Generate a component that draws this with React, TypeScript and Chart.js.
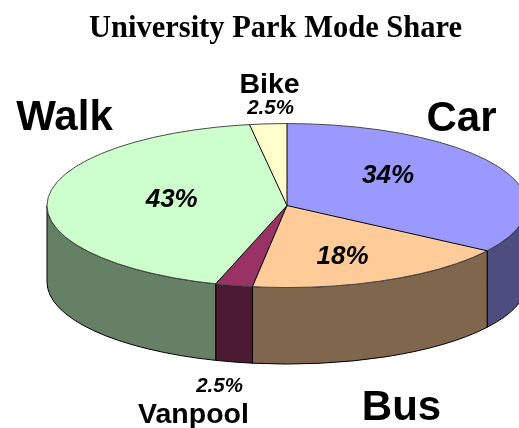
import React, { useEffect, useRef } from "react";
import { Chart, registerables } from "chart.js";

Chart.register(...registerables);

const categories = ["Car", "Bus", "Vanpool", "Walk", "Bike"];
const shareValues = [34.3, 18, 2.5, 42.7, 2.5];
const topColors = ["#9999FF", "#FFCC99", "#993366", "#CCFFCC", "#FFFFCC"];
const sideColors = ["#4D4D80", "#80664D", "#4D1A33", "#668066", "#808066"];

const TILT = 82 / 240;
const DEPTH = 76.5;
const PIE_SHIFT_X = 11.5;
const SERIF_TITLE = "University Park Mode Share";

// text anchors: [centre x, baseline y]
const nameAnchors = [
  [461.5, 131],
  [401.5, 420],
  [193.5, 423],
  [64.5, 130],
  [269.5, 93],
];
const shareAnchors = [
  [388, 183],
  [342.5, 264],
  [219.5, 392],
  [171.7, 207],
  [270.5, 114],
];

const shareText = (v: number) => (v < 10 ? `${v}%` : `${Math.round(v)}%`);

const pie3d = {
  id: "pie3d",
  beforeDatasetsDraw(chart: any) {
    const ctx = chart.ctx;
    const arcs = chart.getDatasetMeta(0).data;
    const first = arcs[0];
    const cx = first.x + PIE_SHIFT_X;
    const cy = first.y;
    const rx = first.outerRadius;
    const ry = rx * TILT;
    ctx.save();
    arcs.forEach((arc: any, i: number) => {
      const a0 = Math.max(arc.startAngle, 0);
      const a1 = Math.min(arc.endAngle, Math.PI);
      if (a1 <= a0) return;
      ctx.beginPath();
      ctx.ellipse(cx, cy, rx, ry, 0, a0, a1);
      ctx.ellipse(cx, cy + DEPTH, rx, ry, 0, a1, a0, true);
      ctx.closePath();
      ctx.fillStyle = sideColors[i];
      ctx.fill();
      ctx.lineWidth = 1;
      ctx.strokeStyle = "#000";
      ctx.stroke();
    });
    ctx.restore();
    ctx.save();
    ctx.translate(cx, cy);
    ctx.scale(1, TILT);
    ctx.translate(-first.x, -first.y);
  },
  afterDatasetsDraw(chart: any) {
    const ctx = chart.ctx;
    ctx.restore();
    const arcs = chart.getDatasetMeta(0).data;
    const first = arcs[0];
    const cx = first.x + PIE_SHIFT_X;
    const cy = first.y;
    const rx = first.outerRadius;
    const ry = rx * TILT;
    ctx.save();
    ctx.lineWidth = 1;
    ctx.strokeStyle = "#4a4a4a";
    ctx.beginPath();
    ctx.ellipse(cx, cy, rx, ry, 0, 0, Math.PI * 2);
    ctx.stroke();
    ctx.strokeStyle = "#000";
    arcs.forEach((arc: any) => {
      ctx.beginPath();
      ctx.moveTo(cx, cy);
      ctx.lineTo(cx + rx * Math.cos(arc.startAngle), cy + ry * Math.sin(arc.startAngle));
      ctx.stroke();
    });
    ctx.restore();
  },
  afterDraw(chart: any) {
    const ctx = chart.ctx;
    ctx.save();
    ctx.fillStyle = "#000";
    ctx.textAlign = "center";
    ctx.textBaseline = "alphabetic";
    categories.forEach((name, i) => {
      const small = shareValues[i] < 10;
      ctx.font = `bold ${small ? 28.5 : 42}px "Liberation Sans"`;
      ctx.fillText(name, nameAnchors[i][0], nameAnchors[i][1]);
      ctx.font = `italic bold ${small ? 20.5 : 26}px "Liberation Sans"`;
      ctx.fillText(shareText(shareValues[i]), shareAnchors[i][0], shareAnchors[i][1]);
    });
    ctx.restore();
  },
};

export default function App() {
  const ref = useRef<HTMLCanvasElement>(null);
  useEffect(() => {
    if (!ref.current) return;
    const chart = new Chart(ref.current, {
      type: "pie",
      data: {
        labels: categories,
        datasets: [
          {
            data: shareValues,
            backgroundColor: topColors,
            borderWidth: 0,
            radius: 240,
          },
        ],
      },
      options: {
        responsive: false,
        animation: false,
        events: [],
        layout: { padding: { left: 32, right: 0, top: 0, bottom: 64.5 } },
        plugins: {
          legend: { display: false },
          tooltip: { enabled: false },
          title: {
            display: true,
            text: SERIF_TITLE,
            color: "#000",
            font: { family: '"Liberation Serif"', size: 30.5, weight: "bold" },
            padding: { top: 11, bottom: 0 },
          },
        },
      },
      plugins: [pie3d],
    } as any);
    return () => chart.destroy();
  }, []);
  return (
    <div style={{ position: "absolute", left: 0, top: 0, width: 519, height: 428 }}>
      <canvas ref={ref} width={519} height={428} style={{ display: "block" }} />
    </div>
  );
}
